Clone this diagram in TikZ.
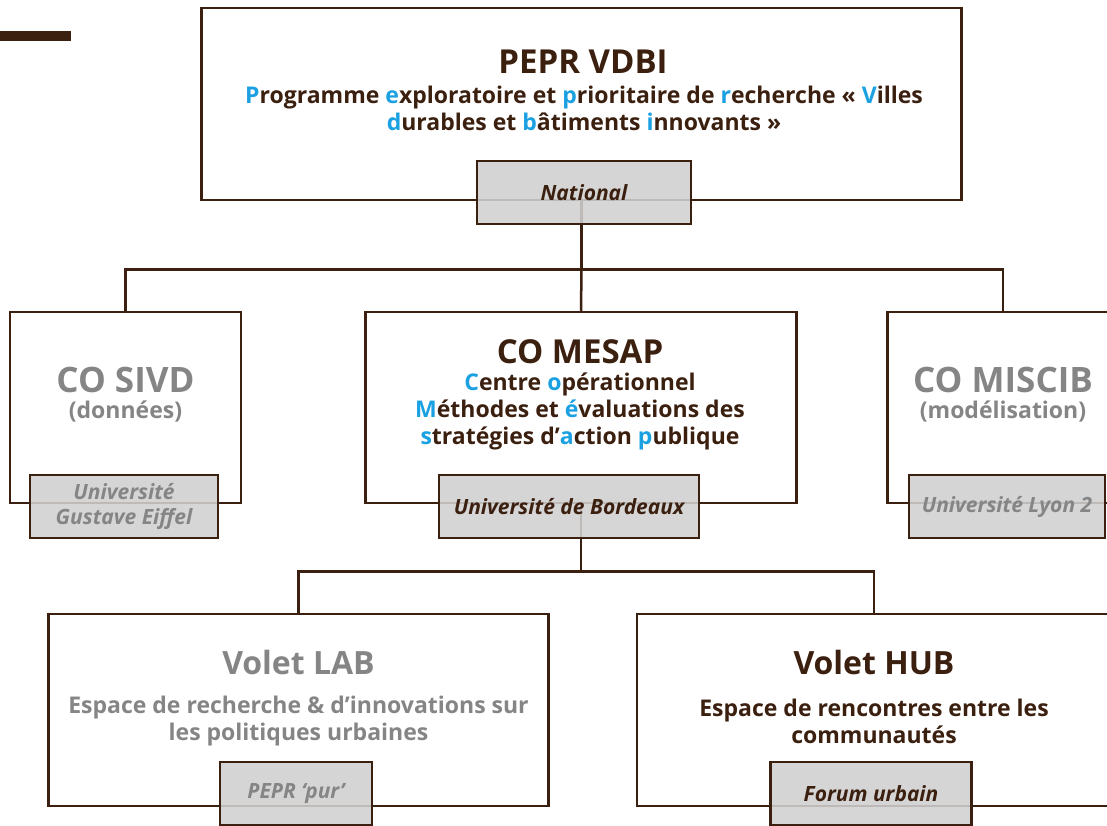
\documentclass[tikz,border=0pt]{standalone}
\usepackage{fontspec}
\setmainfont{Open Sans}
\usetikzlibrary{positioning}
\definecolor{Bark}{HTML}{3B1F0F}
\definecolor{Sky}{HTML}{1BA1E2}
\definecolor{Ash}{HTML}{858585}
\definecolor{TagGray}{HTML}{D0D0D0}
\newcommand{\ini}[1]{\textcolor{Sky}{#1}}

\begin{document}
\begin{tikzpicture}[x=1pt,y=-1pt,
  box/.style={draw=Bark,line width=2.5pt,fill=white,inner sep=0pt},
  tag/.style={draw=Bark,line width=2.5pt,fill=TagGray,fill opacity=0.88,text opacity=1,inner sep=0pt,
    font=\bfseries\itshape\fontsize{21}{25}\selectfont,align=center},
  wire/.style={draw=Bark,line width=2.5pt},
  headline/.style={font=\bfseries\fontsize{32}{36}\selectfont},
  subline/.style={font=\bfseries\fontsize{23}{27}\selectfont,align=center}]
\useasboundingbox (0,0) rectangle (1107,825);
\clip (0,0) rectangle (1107,825);
\fill[Bark] (0,31) rectangle (71,41);
% main boxes
\node[box,minimum width=760pt,minimum height=192pt] (top) at (581.5,104) {};
\node[box,minimum width=231pt,minimum height=191pt] (sivd) at (125.5,407.5) {};
\node[box,minimum width=431pt,minimum height=191pt] (mesap) at (581,407.5) {};
\node[box,minimum width=231pt,minimum height=191pt] (miscib) at (1003,407.5) {};
\node[box,minimum width=500pt,minimum height=192pt] (lab) at (298.5,710) {};
\node[box,minimum width=474pt,minimum height=192pt] (hub) at (874,710) {};
% connectors
\path (top.south) ++(0,68) coordinate (bus1);
\draw[wire] (top.south) -- (bus1);
\draw[wire] (sivd.north) |- (bus1) -| (miscib.north);
\draw[wire] (bus1) -- (mesap.north);
\path (mesap.south) ++(0,67) coordinate (bus2);
\draw[wire] (mesap.south) -- (bus2);
\draw[wire] (lab.north) |- (bus2) -| (hub.north);
% texts
\node[headline,text=Bark,font=\bfseries\fontsize{33}{36}\selectfont] (toptitle) at (583,62) {PEPR VDBI};
\node[subline,text=Bark] (topsub) at (584,108) {\ini{P}rogramme \ini{e}xploratoire et \ini{p}rioritaire de \ini{r}echerche « \ini{V}illes\\ \ini{d}urables et \ini{b}âtiments \ini{i}nnovants »};
\node[headline,text=Ash,font=\bfseries\fontsize{35}{38}\selectfont] (sivdtitle) at (125.5,380) {CO SIVD};
\node[subline,text=Ash] (sivdsub) at (125.5,411) {(données)};
\node[headline,text=Bark,font=\bfseries\fontsize{33}{36}\selectfont] (mesaptitle) at (580,352) {CO MESAP};
\node[subline,text=Bark] (mesapsub) at (580,411) {\ini{C}entre \ini{o}pérationnel\\ \ini{M}éthodes et \ini{é}valuations des\\ \ini{s}tratégies d’\ini{a}ction \ini{p}ublique};
\node[headline,text=Ash,font=\bfseries\fontsize{35}{38}\selectfont] (misciptitle) at (1003,380) {CO MISCIB};
\node[subline,text=Ash] (miscibsub) at (1003,411) {(modélisation)};
\node[headline,text=Ash] (labtitle) at (298.5,662) {Volet LAB};
\node[subline,text=Ash] (labsub) at (298.5,721) {Espace de recherche \& d’innovations sur\\ les politiques urbaines};
\node[headline,text=Bark] (hubtitle) at (874,662) {Volet HUB};
\node[subline,text=Bark] (hubsub) at (874,721) {Espace de rencontres entre les\\ communautés};
% tags
\node[tag,text=Bark,minimum width=214pt,minimum height=63pt] (national) at (584,192.5) {National};
\node[tag,text=Ash,minimum width=188pt,minimum height=63pt] (sivdtag) at (124,506.5) {Université\\Gustave Eiffel};
\node[tag,text=Bark,minimum width=260pt,minimum height=63pt] (mesaptag) at (569,506.5) {Université de Bordeaux};
\node[tag,text=Ash,minimum width=196pt,minimum height=63pt] (misciptag) at (1007,506.5) {Université Lyon 2};
\node[tag,text=Ash,minimum width=152pt,minimum height=63pt] (labtag) at (296,793.5) {PEPR ‘pur’};
\node[tag,text=Bark,minimum width=201pt,minimum height=63pt] (hubtag) at (871,793.5) {Forum urbain};
\end{tikzpicture}
\end{document}
